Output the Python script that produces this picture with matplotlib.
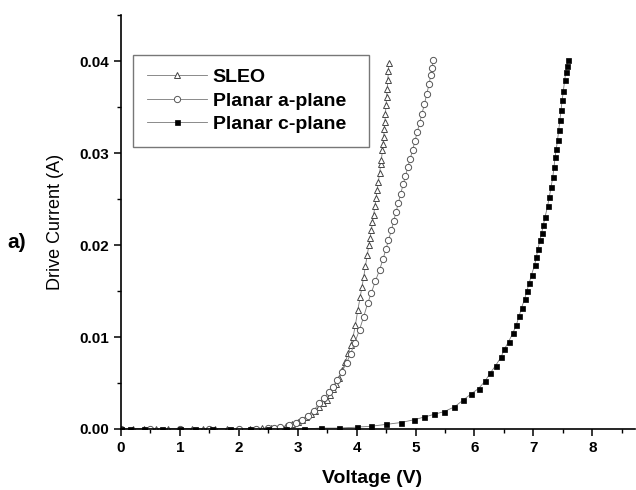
"""
Drive current vs. voltage for SLEO, planar a-plane and planar c-plane devices.
"""

import matplotlib
matplotlib.use("Agg")
import matplotlib.pyplot as plt
from matplotlib.ticker import MultipleLocator

plt.rcParams['font.family'] = ['Liberation Sans', 'DejaVu Sans']

# SLEO (open triangles)
sleo_v = [0.0, 0.2, 0.4, 0.6, 0.8, 1.0, 1.2, 1.4, 1.6, 1.8, 2.0, 2.2, 2.4, 2.55, 2.7,
          2.8, 2.9, 3.0, 3.08, 3.15, 3.22, 3.3, 3.37, 3.43, 3.49, 3.55, 3.6, 3.65, 3.7,
          3.76, 3.81, 3.86, 3.9, 3.94, 3.98, 4.02, 4.06, 4.09, 4.12, 4.15, 4.18, 4.21,
          4.23, 4.25, 4.27, 4.29, 4.31, 4.33, 4.35, 4.37, 4.39, 4.41, 4.42, 4.44, 4.45,
          4.46, 4.47, 4.48, 4.49, 4.5, 4.51, 4.52, 4.53, 4.54, 4.55]
sleo_i = [0.0, 0.0, 0.0, 0.0, 0.0, 0.0, 0.0, 0.0, 0.0, 0.0, 0.0, 0.0, 0.0001, 0.0001, 0.0002,
          0.0003, 0.0005, 0.0008, 0.0010, 0.0013, 0.0016, 0.0020, 0.0024, 0.0028, 0.0032,
          0.0037, 0.0043, 0.0049, 0.0055, 0.0064, 0.0073, 0.0083, 0.0091, 0.0100, 0.0113,
          0.0129, 0.0143, 0.0154, 0.0165, 0.0177, 0.0189, 0.0200, 0.0208, 0.0216, 0.0225,
          0.0233, 0.0242, 0.0251, 0.0260, 0.0269, 0.0278, 0.0288, 0.0293, 0.0303, 0.0310,
          0.0318, 0.0326, 0.0334, 0.0343, 0.0352, 0.0361, 0.0370, 0.0380, 0.0389, 0.0398]

# Planar a-plane (open circles)
aplane_v = [0.0, 0.5, 1.0, 1.5, 2.0, 2.3, 2.5, 2.6, 2.7, 2.85, 2.97, 3.08, 3.17, 3.27,
            3.37, 3.45, 3.53, 3.6, 3.67, 3.75, 3.83, 3.9, 3.97, 4.05, 4.12, 4.19, 4.25,
            4.32, 4.39, 4.45, 4.5, 4.54, 4.59, 4.63, 4.67, 4.71, 4.75, 4.79, 4.83, 4.87,
            4.91, 4.95, 4.99, 5.03, 5.07, 5.11, 5.15, 5.19, 5.23, 5.26, 5.28, 5.30]
aplane_i = [0.0, 0.0, 0.0, 0.0, 0.0, 0.0, 0.0001, 0.0001, 0.0002, 0.0004, 0.0007, 0.0010,
            0.0014, 0.0020, 0.0028, 0.0034, 0.0040, 0.0046, 0.0053, 0.0062, 0.0072, 0.0082,
            0.0094, 0.0108, 0.0122, 0.0137, 0.0148, 0.0161, 0.0173, 0.0185, 0.0196, 0.0205,
            0.0216, 0.0226, 0.0236, 0.0246, 0.0256, 0.0266, 0.0275, 0.0285, 0.0294, 0.0303,
            0.0313, 0.0323, 0.0333, 0.0343, 0.0353, 0.0364, 0.0375, 0.0385, 0.0393, 0.0401]

# Planar c-plane (filled squares)
cplane_v = [0.0, 0.15, 0.4, 0.7, 1.0, 1.25, 1.55, 1.85, 2.2, 2.5, 2.8, 3.1,
            3.4, 3.7, 4.0, 4.25, 4.5, 4.75, 4.97, 5.15, 5.32, 5.49, 5.66, 5.80, 5.94, 6.07,
            6.18, 6.27, 6.36, 6.45, 6.51, 6.58, 6.65, 6.71, 6.76, 6.80,
            6.85, 6.89, 6.93, 6.97, 7.02, 7.05, 7.08, 7.11, 7.14, 7.17,
            7.20, 7.24, 7.27, 7.30, 7.33, 7.35, 7.37, 7.39, 7.41, 7.43,
            7.45, 7.47, 7.49, 7.51, 7.53, 7.55, 7.57, 7.59]
cplane_i = [0.0, 0.0, 0.0, 0.0, 0.0, 0.0, 0.0, 0.0, 0.0, 0.0, 0.0, 0.0,
            0.0001, 0.0001, 0.0002, 0.0003, 0.0005, 0.0007, 0.0010, 0.0013, 0.0016, 0.0019,
            0.0024, 0.0031, 0.0038, 0.0044,
            0.0052, 0.0061, 0.0069, 0.0078, 0.0087, 0.0095, 0.0104, 0.0113, 0.0123, 0.0132,
            0.0141, 0.0150, 0.0159, 0.0168, 0.0178, 0.0187, 0.0196, 0.0205, 0.0213, 0.0222,
            0.0231, 0.0242, 0.0252, 0.0263, 0.0274, 0.0285, 0.0296, 0.0305, 0.0314, 0.0325,
            0.0336, 0.0347, 0.0358, 0.0368, 0.0379, 0.0388, 0.0395, 0.0401]

labels = ['SLEO', 'Planar a-plane', 'Planar c-plane']

fig = plt.figure(figsize=(6.36, 4.90), dpi=100)
ax = fig.add_axes([0.190, 0.1245, 0.808, 0.8445])

ax.plot(sleo_v, sleo_i, color='#777777', lw=0.6, marker='^', ms=4.5,
        mfc='white', mec='#444444', mew=0.7, label=labels[0])
ax.plot(aplane_v, aplane_i, color='#777777', lw=0.6, marker='o', ms=4.5,
        mfc='white', mec='#555555', mew=0.7, label=labels[1])
ax.plot(cplane_v, cplane_i, color='#777777', lw=0.6, marker='s', ms=3.6,
        mfc='black', mec='black', mew=0.5, label=labels[2])

ax.set_xlim(0, 8.72)
ax.set_ylim(0, 0.045)
ax.xaxis.set_major_locator(MultipleLocator(1))
ax.xaxis.set_minor_locator(MultipleLocator(0.5))
ax.yaxis.set_minor_locator(MultipleLocator(0.005))
ax.set_yticks([0, 0.01, 0.02, 0.03, 0.04])
ax.set_yticklabels(['0.00', '0.01', '0.02', '0.03', '0.04'])

for side in ['top', 'right']:
    ax.spines[side].set_visible(False)
for side in ['left', 'bottom']:
    ax.spines[side].set_linewidth(1.2)

ax.tick_params(which='major', direction='out', length=5, width=1.1, labelsize=11)
ax.tick_params(which='minor', direction='out', length=3, width=1.0)
for lab in ax.get_xticklabels() + ax.get_yticklabels():
    lab.set_fontweight('bold')

ax.set_xlabel('Voltage (V)', fontsize=14, fontweight='bold', labelpad=11)
ax.xaxis.label.set_x(0.488)
ax.set_ylabel('Drive Current (A)', fontsize=13, labelpad=11)

fig.text(0.012, 0.505, 'a)', fontsize=15, fontweight='bold', ha='left', va='center')

leg = ax.legend(loc='upper left', bbox_to_anchor=(133 / 636, 1 - 55 / 490, 236 / 636, 0),
                bbox_transform=fig.transFigure, mode='expand', borderaxespad=0,
                frameon=True, fancybox=False, edgecolor='#555555', handlelength=3.1,
                handletextpad=0.3, borderpad=0.7, labelspacing=0.3,
                prop={'weight': 'bold', 'size': 14})
leg.get_frame().set_linewidth(1.0)

plt.savefig('out.png', dpi=100)
plt.close()
